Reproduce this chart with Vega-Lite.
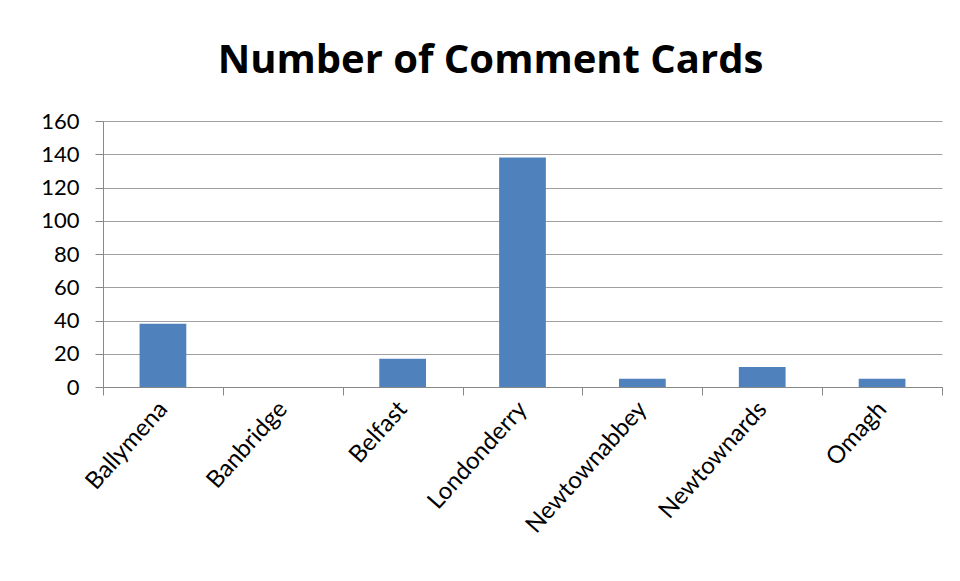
{
  "$schema": "https://vega.github.io/schema/vega-lite/v6.json",
  "autosize": {"type": "none"},
  "width": 839,
  "height": 266,
  "padding": {"left": 103, "top": 121, "right": 18, "bottom": 194},
  "background": "white",
  "title": {
    "text": "Number of Comment Cards",
    "font": "Open Sans",
    "fontSize": 40,
    "fontWeight": "bold",
    "color": "#000000",
    "anchor": "middle",
    "frame": "group",
    "dx": -32,
    "offset": 29
  },
  "data": {
    "values": [
      {"town": "Ballymena", "cards": 38},
      {"town": "Banbridge", "cards": 0},
      {"town": "Belfast", "cards": 17},
      {"town": "Londonderry", "cards": 138},
      {"town": "Newtownabbey", "cards": 5},
      {"town": "Newtownards", "cards": 12},
      {"town": "Omagh", "cards": 5}
    ]
  },
  "mark": {"type": "bar", "color": "#4f81bd", "width": {"band": 0.39}},
  "encoding": {
    "x": {
      "field": "town",
      "type": "nominal",
      "sort": null,
      "title": null,
      "scale": {"paddingInner": 0, "paddingOuter": 0},
      "axis": {
        "labelAngle": -48,
        "labelAlign": "right",
        "labelBaseline": "middle",
        "labelFont": "Lato",
        "labelFontSize": 24,
        "labelColor": "#000000",
        "labelPadding": 10,
        "tickBand": "extent",
        "tickSize": 8,
        "tickColor": "#888888",
        "domainColor": "#888888",
        "grid": false
      }
    },
    "y": {
      "field": "cards",
      "type": "quantitative",
      "title": null,
      "scale": {"domain": [0, 160]},
      "axis": {
        "values": [0, 20, 40, 60, 80, 100, 120, 140, 160],
        "labelFont": "Lato",
        "labelFontSize": 22,
        "labelColor": "#000000",
        "labelPadding": 16,
        "tickSize": 8,
        "tickColor": "#888888",
        "domainColor": "#888888",
        "gridColor": "#a0a0a0",
        "gridWidth": 1.2
      }
    }
  },
  "config": {"view": {"stroke": null}}
}
